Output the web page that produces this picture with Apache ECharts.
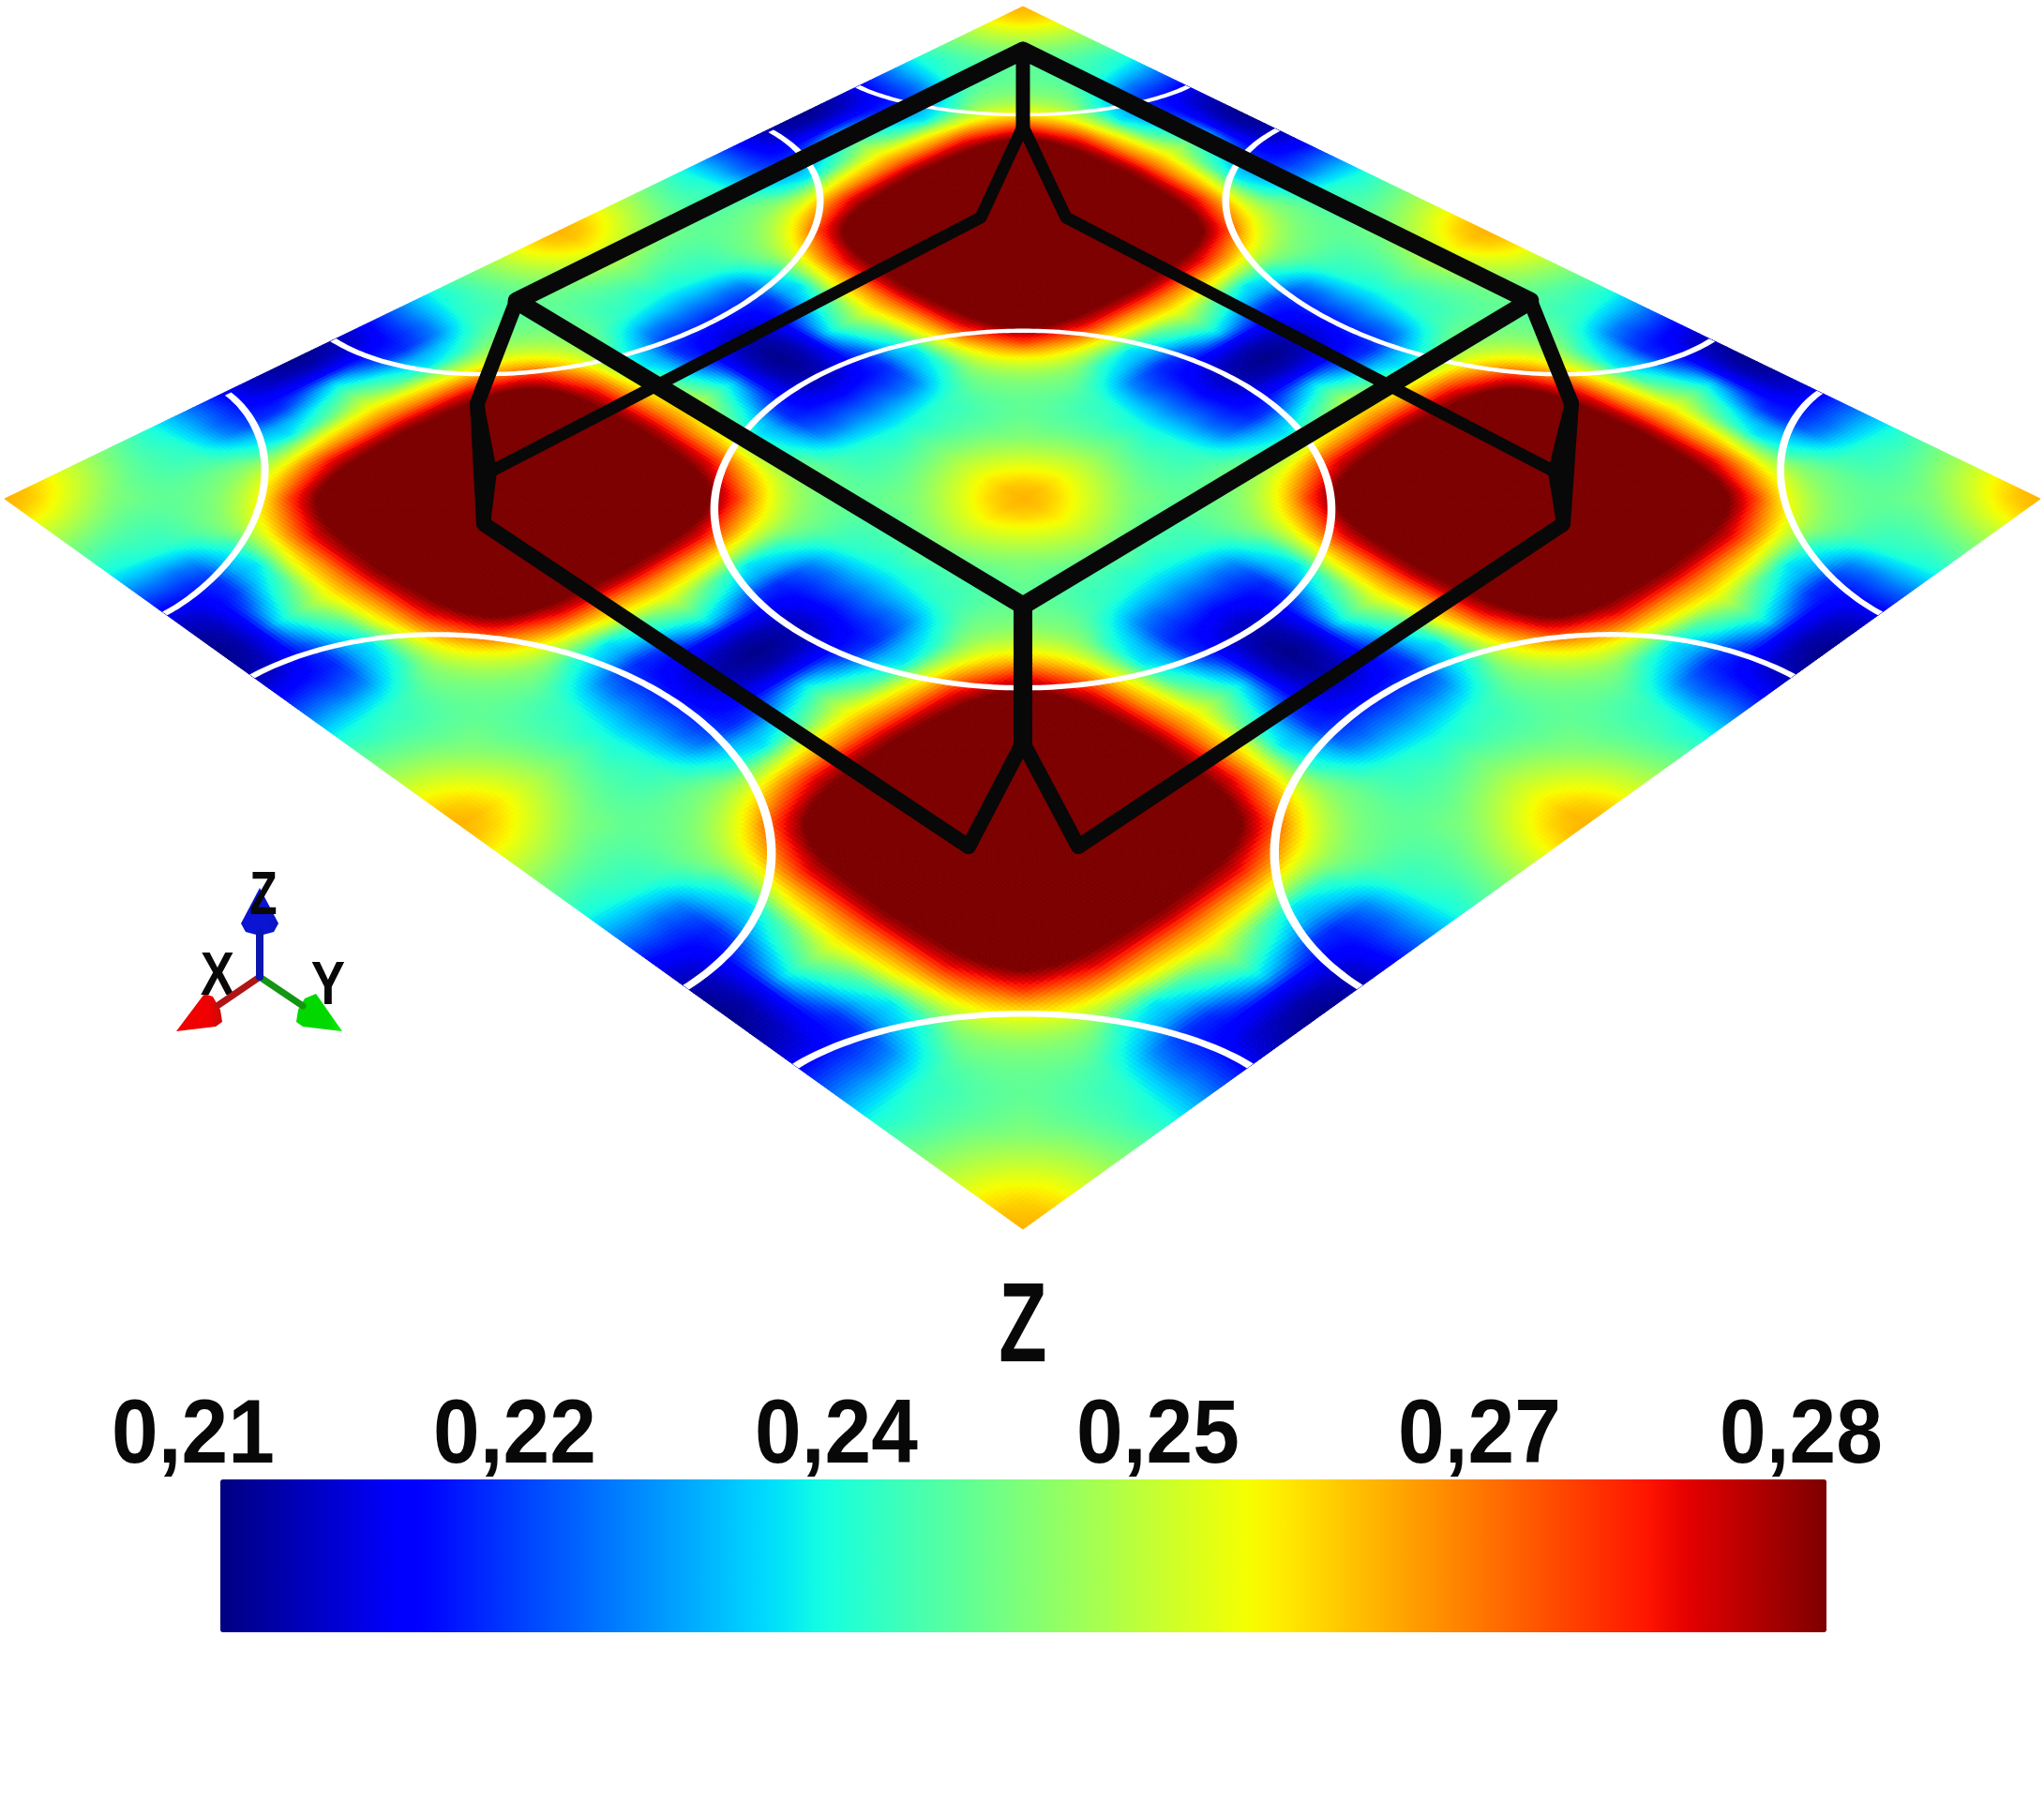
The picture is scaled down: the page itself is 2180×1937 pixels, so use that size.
<!DOCTYPE html>
<html>
<head>
<meta charset="utf-8">
<title>Z</title>
<style>
    html, body { margin: 0; padding: 0; background: #fff; }
    #main { width: 2180px; height: 1937px; }
</style>
<script src="https://cdn.jsdelivr.net/npm/echarts@6/dist/echarts.min.js"></script>
</head>
<body>
<div id="main"></div>
<script>
// one quarter of the repeating tile (orange spot at [0][0], dark red at [16][16])
var fieldQuadrant = [
    [.2605, .2595, .2565, .2525, .249, .2455, .2425, .2395, .236, .2315, .2265, .222, .2175, .2145, .2125, .2112, .2105],
    [.2595, .258, .255, .2515, .248, .2445, .2415, .2385, .2365, .232, .227, .2225, .2185, .2155, .214, .213, .2125],
    [.2565, .255, .2525, .2495, .2465, .2435, .241, .2395, .2375, .2325, .2265, .2225, .2195, .2185, .218, .2178, .2175],
    [.2525, .2515, .2495, .247, .2445, .2425, .241, .2395, .2385, .234, .228, .224, .2215, .222, .2255, .23, .2335],
    [.249, .248, .2465, .2445, .244, .2425, .2415, .241, .2405, .237, .234, .2315, .2305, .2315, .235, .238, .2415],
    [.2455, .2445, .2435, .2425, .2425, .2425, .2425, .243, .2435, .2425, .2385, .2365, .235, .2385, .2415, .2455, .249],
    [.2425, .2415, .241, .241, .2415, .2425, .2435, .2445, .246, .2475, .248, .2485, .2505, .253, .2545, .2555, .2565],
    [.2395, .2385, .2395, .2395, .241, .243, .2445, .247, .25, .2535, .2565, .26, .262, .263, .2635, .2645, .265],
    [.236, .2365, .2375, .2385, .2405, .2435, .246, .25, .255, .2605, .2655, .27, .274, .275, .276, .2765, .277],
    [.2315, .232, .2325, .234, .237, .2425, .2475, .2535, .2605, .27, .2755, .2795, .2815, .2825, .283, .283, .2835],
    [.2265, .227, .2265, .228, .234, .2385, .248, .2565, .2655, .2755, .283, .286, .287, .287, .2875, .288, .288],
    [.222, .2225, .2225, .224, .2315, .2365, .2485, .26, .27, .2795, .286, .289, .29, .2905, .291, .2915, .292],
    [.2175, .2185, .2195, .2215, .2305, .235, .2505, .262, .274, .2815, .287, .29, .294, .295, .2955, .296, .296],
    [.2145, .2155, .2185, .222, .2315, .2385, .253, .263, .275, .2825, .287, .2905, .295, .299, .3, .3, .3],
    [.2125, .214, .218, .2255, .235, .2415, .2545, .2635, .276, .283, .2875, .291, .2955, .3, .303, .304, .304],
    [.2112, .213, .2178, .23, .238, .2455, .2555, .2645, .2765, .283, .288, .2915, .296, .3, .304, .306, .307],
    [.2105, .2125, .2175, .2335, .2415, .249, .2565, .265, .277, .2835, .288, .292, .296, .3, .304, .307, .309]
];

var colorbarTicks = ['0,21', '0,22', '0,24', '0,25', '0,27', '0,28'];
var colorMin = 0.21;
var colorMax = 0.28;

// jet colour map: position on the bar, red, green, blue
var jetStops = [
    [0, 0, 0, 128], [.11, 0, 0, 255], [.125, 0, 0, 255], [.34, 0, 219, 255], [.35, 0, 229, 247],
    [.375, 20, 255, 226], [.64, 246, 255, 0], [.66, 255, 236, 0], [.89, 255, 19, 0], [.91, 232, 0, 0], [1, 125, 0, 0]
];

// the plate as seen in the picture: top, right, bottom, left
var plateCorners = [[1091, 7], [2176, 532], [1091, 1311], [5, 532]];

// white rings on the plate: centre u, centre v, half width along u, along v, roundness
var ringU = [.5, 0, 1, 0, 1, .5, .5, 0, 1];
var ringV = [.5, 0, 0, 1, 1, 0, 1, .5, .5];
var ringRu = [.214, .188, .188, .188, .188, .215, .215, .178, .178];
var ringRv = [.214, .188, .188, .188, .188, .178, .178, .215, .215];
var ringPower = [2, 1.73, 1.73, 1.73, 1.73, 2, 2, 2, 2];

// black wireframe, in picture pixels
var wireTop = [[1091, 54], [551, 321], [1091, 646], [1632, 321], [1091, 54]];
var wireApex = [[1091, 54], [1091, 135]];
var wireInnerLeft = [[1091, 135], [1046, 232], [523, 503]];
var wireInnerRight = [[1091, 135], [1137, 232], [1658, 503]];
var wireOuter = [[551, 321], [509, 430], [516, 559], [1033, 903], [1091, 792], [1150, 903], [1667, 559], [1676, 430], [1632, 321]];
var wireWedgeLeft = [[509, 430], [523, 503], [516, 559]];
var wireWedgeRight = [[1676, 430], [1658, 503], [1667, 559]];
var wireFront = [[1091, 646], [1091, 792]];

// axes triad
var triadX = [[277, 1042], [233, 1072]];
var triadY = [[277, 1042], [323, 1073]];
var triadZ = [[277, 1042], [277, 995]];
var coneX = [[188, 1100], [218, 1060], [227, 1063], [235, 1077], [237, 1090], [230, 1095]];
var coneY = [[365, 1100], [337, 1060], [325, 1065], [318, 1077], [316, 1090], [323, 1095]];
var coneZ = [[277, 947], [297, 985], [292, 994], [277, 998], [262, 994], [257, 985]];

// text placed on the picture: x, y, label, size, horizontal squeeze
var pictureTexts = [
    [232, 1043, 'X', 64, .85],
    [350, 1053, 'Y', 64, .85],
    [281, 957, 'Z', 64, .75],
    [1091, 1419, 'Z', 120, .7]
];

var boldFont = '"Liberation Sans", Arial, sans-serif';

// full plate grid from the quarter tile, it repeats twice each way
var fieldCells = 64;
function tileIndex(k) {
    var q = k % 32;
    return q > 16 ? 32 - q : q;
}
function fieldAt(i, j) {
    return fieldQuadrant[tileIndex(j)][tileIndex(i)];
}

function jetColor(t) {
    if (t <= 0) t = 0;
    if (t >= 1) t = 1;
    for (var s = 1; s < jetStops.length; s++) {
        if (t <= jetStops[s][0]) {
            var a = jetStops[s - 1], b = jetStops[s];
            var f = (t - a[0]) / (b[0] - a[0]);
            return 'rgb(' + Math.round(a[1] + (b[1] - a[1]) * f) + ',' +
                Math.round(a[2] + (b[2] - a[2]) * f) + ',' +
                Math.round(a[3] + (b[3] - a[3]) * f) + ')';
        }
    }
    return 'rgb(125,0,0)';
}
function valueColor(z) {
    return jetColor((z - colorMin) / (colorMax - colorMin));
}

// perspective of the plate: u runs top to right, v runs top to left
var plateMap = (function () {
    var p = plateCorners;
    var dx1 = p[1][0] - p[2][0], dx2 = p[3][0] - p[2][0], sx = p[0][0] - p[1][0] + p[2][0] - p[3][0];
    var dy1 = p[1][1] - p[2][1], dy2 = p[3][1] - p[2][1], sy = p[0][1] - p[1][1] + p[2][1] - p[3][1];
    var den = dx1 * dy2 - dx2 * dy1;
    var g = (sx * dy2 - dx2 * sy) / den;
    var h = (dx1 * sy - dy1 * sx) / den;
    return {
        a: p[1][0] - p[0][0] + g * p[1][0], b: p[3][0] - p[0][0] + h * p[3][0], c: p[0][0],
        d: p[1][1] - p[0][1] + g * p[1][1], e: p[3][1] - p[0][1] + h * p[3][1], f: p[0][1],
        g: g, h: h
    };
})();
function platePoint(u, v, api) {
    var m = plateMap;
    var w = m.g * u + m.h * v + 1;
    return api.coord([(m.a * u + m.b * v + m.c) / w, (m.d * u + m.e * v + m.f) / w]);
}

// each cell is shaded in small pieces so it blends into its neighbours
var cellPieces = 5;
function renderField(params, api) {
    var i = api.value(0), j = api.value(1);
    var v00 = fieldAt(i, j), v10 = fieldAt(i + 1, j), v01 = fieldAt(i, j + 1), v11 = fieldAt(i + 1, j + 1);
    var children = [];
    for (var m = 0; m < cellPieces; m++) {
        for (var n = 0; n < cellPieces; n++) {
            var fu = (m + .5) / cellPieces, fv = (n + .5) / cellPieces;
            var z = v00 * (1 - fu) * (1 - fv) + v10 * fu * (1 - fv) + v01 * (1 - fu) * fv + v11 * fu * fv;
            var c = valueColor(z);
            var u0 = (i + m / cellPieces) / fieldCells, u1 = (i + (m + 1) / cellPieces) / fieldCells;
            var v0 = (j + n / cellPieces) / fieldCells, v1 = (j + (n + 1) / cellPieces) / fieldCells;
            children.push({
                type: 'polygon',
                shape: { points: [platePoint(u0, v0, api), platePoint(u1, v0, api), platePoint(u1, v1, api), platePoint(u0, v1, api)] },
                style: { fill: c, stroke: c, lineWidth: 1 },
                silent: true
            });
        }
    }
    return { type: 'group', children: children };
}

var ringWidth = 0.0055;
function clamp01(x) {
    return x < 0 ? 0 : (x > 1 ? 1 : x);
}
function renderRing(params, api) {
    var cu = api.value(0), cv = api.value(1), ru = api.value(2), rv = api.value(3), pw = api.value(4);
    var steps = 360, children = [], outer = [], inner = [];
    function flush() {
        if (outer.length > 1) {
            children.push({
                type: 'polygon',
                shape: { points: outer.concat(inner.reverse()) },
                style: { fill: '#fff' },
                silent: true
            });
        }
        outer = [];
        inner = [];
    }
    for (var s = 0; s <= steps; s++) {
        var an = s / steps * Math.PI * 2, ca = Math.cos(an), sa = Math.sin(an);
        var sq = Math.pow(Math.pow(Math.abs(ca), pw) + Math.pow(Math.abs(sa), pw), -1 / pw);
        ca *= sq;
        sa *= sq;
        var mu = cu + ru * ca, mv = cv + rv * sa;
        if (mu < 0 || mu > 1 || mv < 0 || mv > 1) {
            flush();
            continue;
        }
        outer.push(platePoint(clamp01(cu + (ru + ringWidth / 2) * ca), clamp01(cv + (rv + ringWidth / 2) * sa), api));
        inner.push(platePoint(clamp01(cu + (ru - ringWidth / 2) * ca), clamp01(cv + (rv - ringWidth / 2) * sa), api));
    }
    flush();
    return { type: 'group', children: children };
}

function textElement(x, y, label, size, squeeze) {
    return {
        type: 'text',
        x: x,
        y: y,
        scaleX: squeeze,
        silent: true,
        style: {
            text: label,
            textAlign: 'center',
            textVerticalAlign: 'middle',
            fontFamily: boldFont,
            fontWeight: 'bold',
            fontSize: size,
            fill: '#080808'
        }
    };
}

function wireSeries(points, width, color) {
    return {
        type: 'line',
        xAxisIndex: 0,
        yAxisIndex: 0,
        data: points,
        symbol: 'none',
        silent: true,
        animation: false,
        lineStyle: { width: width, color: color, join: 'round', cap: 'round' }
    };
}
function coneSeries(points, light, dark) {
    return {
        type: 'custom',
        xAxisIndex: 0,
        yAxisIndex: 0,
        data: [0],
        silent: true,
        animation: false,
        renderItem: function (params, api) {
            return {
                type: 'polygon',
                shape: { points: points.map(function (pt) { return api.coord(pt); }) },
                style: {
                    fill: new echarts.graphic.LinearGradient(0, 0, 1, 0, [
                        { offset: 0, color: light }, { offset: .7, color: light }, { offset: 1, color: dark }
                    ])
                }
            };
        }
    };
}

var fieldData = [];
for (var j = 0; j < fieldCells; j++) {
    for (var i = 0; i < fieldCells; i++) {
        fieldData.push([i, j, fieldAt(i, j)]);
    }
}
var ringData = ringU.map(function (u, k) {
    return [u, ringV[k], ringRu[k], ringRv[k], ringPower[k]];
});
var barColors = [];
for (var k = 0; k <= 128; k++) {
    barColors.push(jetColor(k / 128));
}

var chart = echarts.init(document.getElementById('main'));
var option = {
    backgroundColor: '#fff',
    animation: false,
    grid: [
        { left: 0, top: 0, width: 2180, height: 1937 },
        { left: 206, top: 1533, width: 1715, height: 1 }
    ],
    xAxis: [
        { type: 'value', min: 0, max: 2180, show: false, gridIndex: 0 },
        { type: 'category', gridIndex: 1, data: colorbarTicks, boundaryGap: false, show: false }
    ],
    yAxis: [
        { type: 'value', min: 0, max: 1937, inverse: true, show: false, gridIndex: 0 },
        { type: 'value', min: 0, max: 1, show: false, gridIndex: 1 }
    ],
    visualMap: {
        type: 'continuous',
        seriesIndex: 0,
        dimension: 2,
        min: colorMin,
        max: colorMax,
        orient: 'horizontal',
        left: 235,
        top: 1578,
        padding: 0,
        itemWidth: 163,
        itemHeight: 1713,
        calculable: false,
        realtime: false,
        hoverLink: false,
        showLabel: false,
        text: null,
        inRange: { color: barColors }
    },
    series: [
        {
            type: 'custom',
            xAxisIndex: 0,
            yAxisIndex: 0,
            data: fieldData,
            progressive: 0,
            silent: true,
            animation: false,
            renderItem: renderField
        },
        {
            type: 'custom',
            xAxisIndex: 0,
            yAxisIndex: 0,
            data: ringData,
            silent: true,
            animation: false,
            renderItem: renderRing
        },
        wireSeries(wireTop, 19, '#080808'),
        wireSeries(wireApex, 15, '#080808'),
        wireSeries(wireInnerLeft, 13, '#080808'),
        wireSeries(wireInnerRight, 13, '#080808'),
        wireSeries(wireOuter, 16, '#080808'),
        wireSeries(wireWedgeLeft, 14, '#080808'),
        wireSeries(wireWedgeRight, 14, '#080808'),
        wireSeries(wireFront, 20, '#080808'),
        wireSeries(triadX, 7, '#b01414'),
        wireSeries(triadY, 7, '#149614'),
        wireSeries(triadZ, 8, '#0a14b0'),
        coneSeries(coneX, '#f00000', '#c80a0a'),
        coneSeries(coneY, '#00d800', '#10f010'),
        coneSeries(coneZ, '#0a14d2', '#0a14c0'),
        {
            type: 'custom',
            xAxisIndex: 0,
            yAxisIndex: 0,
            data: pictureTexts.map(function (t, n) { return [t[0], t[1], n]; }),
            silent: true,
            animation: false,
            renderItem: function (params, api) {
                var t = pictureTexts[params.dataIndex];
                var pos = api.coord([t[0], t[1]]);
                return textElement(pos[0], pos[1], t[2], t[3], t[4]);
            }
        },
        {
            type: 'custom',
            xAxisIndex: 1,
            yAxisIndex: 1,
            data: colorbarTicks.map(function (t, n) { return [n, 0]; }),
            silent: true,
            animation: false,
            renderItem: function (params, api) {
                var pos = api.coord([api.value(0), api.value(1)]);
                return textElement(pos[0], pos[1], colorbarTicks[params.dataIndex], 96, .93);
            }
        }
    ]
};
chart.setOption(option);
</script>
</body>
</html>
